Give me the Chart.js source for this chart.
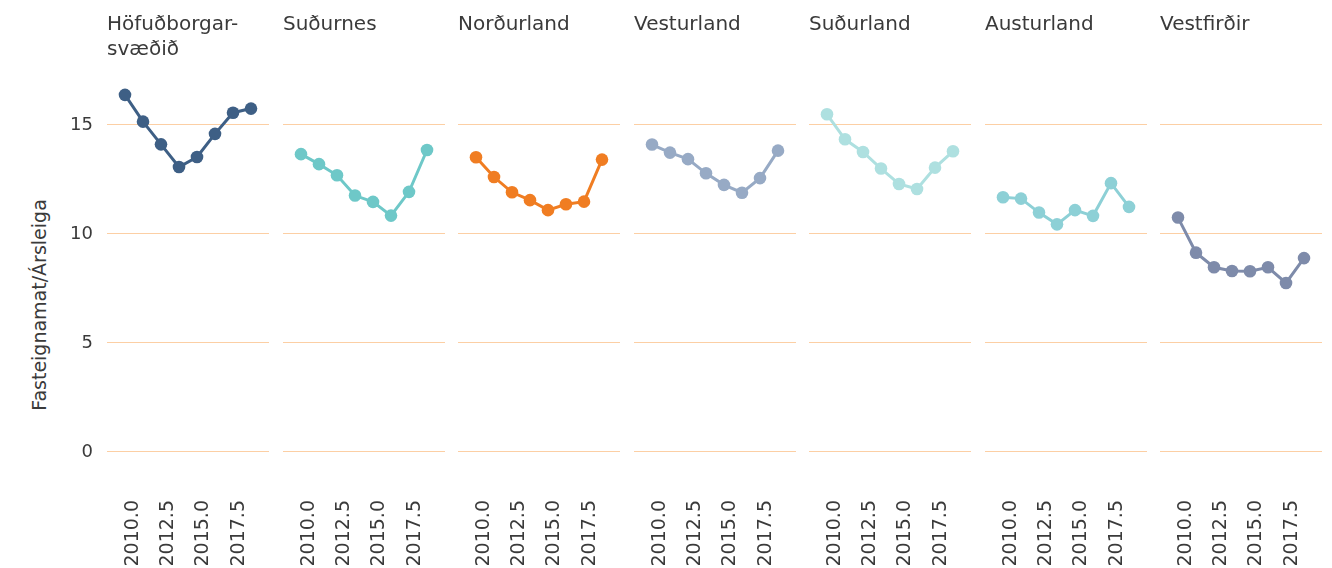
<!DOCTYPE html>
<html>
<head>
<meta charset="utf-8">
<script src="https://cdn.jsdelivr.net/npm/chart.js@4"></script>
<style>
  body { margin: 0; background: #fff; }
  #wrap { position: relative; width: 1332px; height: 568px; font-family: "DejaVu Sans", sans-serif; }
  #wrap canvas { position: absolute; top: 0; }
  #ytitle {
    position: absolute; left: 39px; top: 305px;
    transform: translate(-50%, -50%) rotate(-90deg);
    white-space: nowrap; font-size: 19px; color: #3a3a3a;
  }
</style>
</head>
<body>
<div id="wrap"><div id="ytitle">Fasteignamat/Ársleiga</div></div>
<script>
// years on the x axis (one point per year)
const years = [2010, 2011, 2012, 2013, 2014, 2015, 2016, 2017];

// tick labels
const xTickValues = [2010, 2012.5, 2015, 2017.5];
const xTickLabels = ['2010.0', '2012.5', '2015.0', '2017.5'];
const yTickValues = [0, 5, 10, 15];
const yTickLabels = ['0', '5', '10', '15'];

// region titles
const regionTitles = [
  ['Höfuðborgar-', 'svæðið'], 'Suðurnes', 'Norðurland', 'Vesturland',
  'Suðurland', 'Austurland', 'Vestfirðir'
];

// Fasteignamat / Ársleiga per region
const hofudborgarsvaedid = [16.38, 15.15, 14.11, 13.07, 13.53, 14.59, 15.56, 15.75];
const sudurnes           = [13.66, 13.20, 12.69, 11.76, 11.47, 10.84, 11.93, 13.85];
const nordurland         = [13.52, 12.61, 11.91, 11.55, 11.09, 11.36, 11.48, 13.41];
const vesturland         = [14.10, 13.73, 13.43, 12.78, 12.25, 11.89, 12.56, 13.82];
const sudurland          = [15.49, 14.34, 13.76, 13.00, 12.29, 12.06, 13.04, 13.79];
const austurland         = [11.68, 11.62, 10.98, 10.44, 11.09, 10.83, 12.33, 11.24];
const vestfirdir         = [10.75,  9.14,  8.47,  8.30,  8.29,  8.47,  7.75,  8.89];

const series = [hofudborgarsvaedid, sudurnes, nordurland, vesturland, sudurland, austurland, vestfirdir];
const colors = ['#3e5f85', '#6ec8c8', '#f07d22', '#97aac5', '#aee0e0', '#8dd0d6', '#7e8baa'];

const textColor = '#3a3a3a';
const gridColor = '#fccfa4';
const fontFamily = '"DejaVu Sans", sans-serif';

const wrap = document.getElementById('wrap');

series.forEach((vals, i) => {
  const first = i === 0;
  const panelLeft = Math.round(107 + 175.5 * i);
  const axisWidth = first ? 107 : 0;
  const panelWidth = 162;

  const canvas = document.createElement('canvas');
  canvas.width = panelWidth + axisWidth;
  canvas.height = 568;
  canvas.style.left = (panelLeft - axisWidth) + 'px';
  wrap.appendChild(canvas);

  const title = regionTitles[i];
  const lines = Array.isArray(title) ? title.length : 1;

  new Chart(canvas, {
    type: 'line',
    data: {
      datasets: [{
        data: years.map((yr, k) => ({ x: yr, y: vals[k] })),
        borderColor: colors[i],
        backgroundColor: colors[i],
        pointBackgroundColor: colors[i],
        pointBorderWidth: 0,
        pointRadius: 6.3,
        borderWidth: 3,
        tension: 0,
        clip: false,
        xAxisID: 'x',
        yAxisID: 'y'
      }]
    },
    options: {
      responsive: false,
      animation: false,
      events: [],
      layout: { padding: 0, autoPadding: false },
      plugins: {
        legend: { display: false },
        tooltip: { enabled: false },
        title: {
          display: true,
          text: title,
          align: 'start',
          fullSize: false,
          color: textColor,
          font: { family: fontFamily, size: 20, weight: 'normal', lineHeight: 1.25 },
          padding: { top: 12.5, bottom: 70 - 12.5 - 25 * lines }
        }
      },
      scales: {
        // data axis (hidden): one step of padding on each side
        x: { type: 'linear', display: false, min: 2009, max: 2018 },
        // visible year axis
        xt: {
          type: 'linear',
          position: 'bottom',
          min: 2008.16,
          max: 2019.65,
          grid: { display: false },
          border: { display: false },
          afterBuildTicks: s => { s.ticks = xTickValues.map(v => ({ value: v })); },
          afterFit: s => { s.height = 98; s.paddingLeft = 0; s.paddingRight = 0; },
          ticks: {
            autoSkip: false,
            minRotation: 90,
            maxRotation: 90,
            padding: 22,
            color: textColor,
            font: { family: fontFamily, size: 19 },
            callback: (v, idx) => xTickLabels[idx]
          }
        },
        y: {
          min: -0.83,
          max: 17.52,
          afterBuildTicks: s => { s.ticks = yTickValues.map(v => ({ value: v })); },
          afterFit: s => { s.width = axisWidth; s.paddingTop = 0; s.paddingBottom = 0; },
          grid: { color: gridColor, drawTicks: false, lineWidth: 1 },
          border: { display: false },
          ticks: {
            display: first,
            padding: 14,
            color: textColor,
            font: { family: fontFamily, size: 18 },
            callback: (v, idx) => yTickLabels[idx]
          }
        }
      }
    }
  });
});
</script>
</body>
</html>
